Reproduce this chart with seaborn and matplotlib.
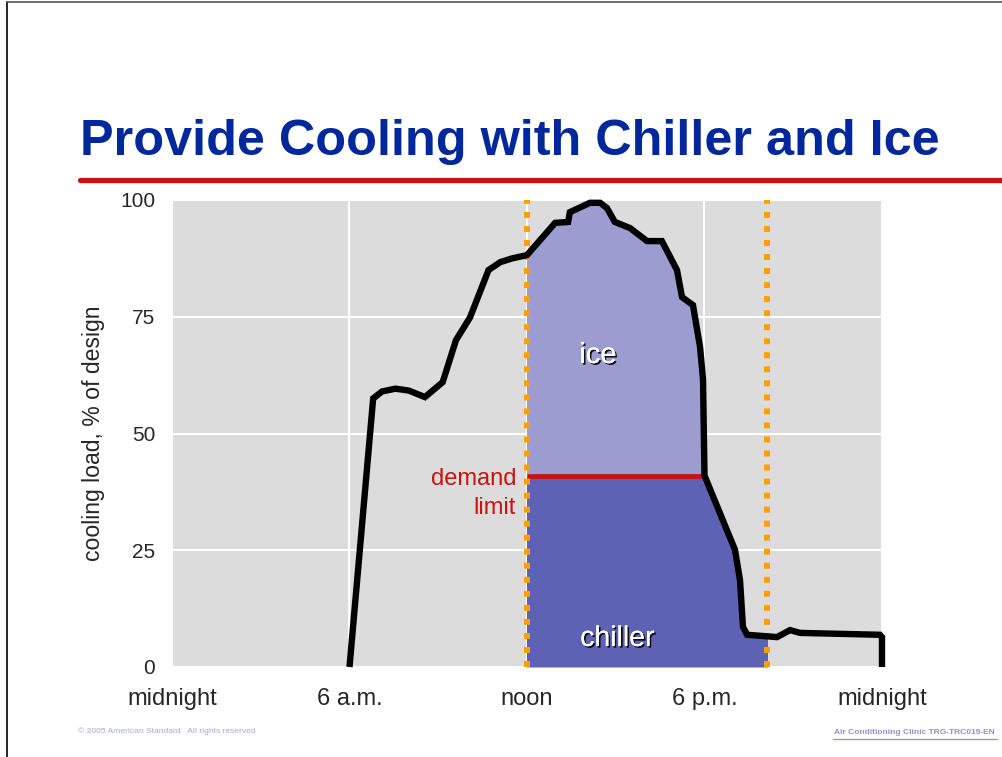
import matplotlib
matplotlib.use("Agg")
import matplotlib.pyplot as plt
import matplotlib.patheffects as pe
from matplotlib.lines import Line2D
from matplotlib.patches import Rectangle
import numpy as np
import seaborn as sns

# Hourly cooling load profile (hour of day, % of design load)
hours = [6.0, 6.8, 7.1, 7.55, 8.0, 8.55, 9.15, 9.6, 10.07, 10.7, 11.1, 11.5,
         12.0, 12.95, 13.39, 13.45, 14.13, 14.47, 14.7, 14.97, 15.48, 16.06,
         16.56, 17.07, 17.24, 17.61, 17.85, 17.95, 18.0, 19.03, 19.2, 19.3,
         19.44, 20.45, 20.89, 21.23, 23.93, 24.0, 24.0]
load = [0.0, 57.5, 59.0, 59.6, 59.2, 57.8, 61.0, 70.0, 74.8, 85.0, 86.7, 87.5,
        88.2, 95.1, 95.3, 97.4, 99.4, 99.4, 98.3, 95.3, 94.0, 91.2,
        91.2, 85.0, 79.2, 77.5, 68.5, 61.5, 41.0, 25.1, 18.6, 8.6,
        6.9, 6.4, 7.9, 7.3, 6.9, 6.4, 0.0]

demand_limit = 41.0
ice_window = (12.0, 18.0)        # ice melted above the demand limit
chiller_window = (12.0, 20.1)    # chiller output capped at the limit
storage_marks = [12.0, 20.1]

tick_hours = [0, 6, 12, 18, 24]
tick_labels = ["midnight", "6 a.m.", "noon", "6 p.m.", "midnight"]
load_ticks = [0, 25, 50, 75, 100]

sns.set_style("white", {"axes.facecolor": "#dcdcdc"})
plt.rcParams["font.family"] = ["Liberation Sans", "DejaVu Sans"]

fig = plt.figure(figsize=(10.03, 7.57), dpi=100)
ax = fig.add_axes([172 / 1003, 1 - 667 / 757, 710 / 1003, 467 / 757])

h = np.array(hours)
y = np.array(load)

# chiller share: up to the demand limit
chiller = ax.fill_between(h, 0, np.minimum(y, demand_limit), color="#5e62b4",
                          linewidth=0, zorder=2)
clip_c = Rectangle((chiller_window[0], 0), chiller_window[1] - chiller_window[0], 100,
                   transform=ax.transData)
chiller.set_clip_path(clip_c)

# ice share: above the demand limit
ice = ax.fill_between(h, demand_limit, y, where=y >= demand_limit, interpolate=True,
                      color="#9b9dd0", linewidth=0, zorder=2)
clip_i = Rectangle((ice_window[0], 0), ice_window[1] - ice_window[0], 100,
                   transform=ax.transData)
ice.set_clip_path(clip_i)

# demand limit
ax.plot(list(ice_window), [demand_limit, demand_limit], color="#cc1111", lw=3.4,
        solid_capstyle="butt", zorder=3)

# storage period markers
for m in storage_marks:
    ax.axvline(m, color="#ffa000", lw=4.3, linestyle=(0, (1, 1.35)),
               dash_capstyle="butt", zorder=4)

sns.lineplot(x=hours, y=load, estimator=None, sort=False, color="black",
             lw=4.6, ax=ax, zorder=5)
load_line = ax.lines[-1]
load_line.set_solid_joinstyle("miter")
load_line.set_solid_capstyle("butt")
load_line.set_clip_on(False)

ax.set_xlim(0, 24)
ax.set_ylim(0, 100)
ax.set_xticks(tick_hours)
ax.set_xticklabels(tick_labels)
ax.set_yticks(load_ticks)
ax.grid(True, color="white", lw=1.5, zorder=0)
ax.set_axisbelow(True)
ax.tick_params(axis="x", length=0, pad=15, labelsize=17)
ax.tick_params(axis="y", length=0, pad=12, labelsize=15)
for s in ax.spines.values():
    s.set_visible(False)
ax.set_ylabel("cooling load, % of design", fontsize=16.6)
ax.yaxis.set_label_coords(-0.095, 0.5)

shadow = [pe.withSimplePatchShadow(offset=(1.2, -1.2), shadow_rgbFace="black", alpha=0.9),
          pe.Normal()]
ax.text(14.4, 66.8, "ice", color="white", fontsize=21, ha="center", va="center",
        path_effects=shadow, zorder=6)
ax.text(15.05, 6.0, "chiller", color="white", fontsize=20.5, ha="center", va="center",
        path_effects=shadow, zorder=6)
ax.text(11.63, 37.2, "demand\nlimit", color="#cc1111", fontsize=17, ha="right",
        va="center", linespacing=1.42, zorder=6)

# slide title and rule
fig.text(80 / 1003, 1 - 155 / 757, "Provide Cooling with Chiller and Ice",
         fontsize=36.3, fontweight="bold", color="#00289c",
         ha="left", va="baseline")
fig.add_artist(Line2D([80 / 1003, 1.0], [1 - 180 / 757] * 2, color="#cc1111", lw=3.8))

# slide frame
fig.add_artist(Line2D([7.5 / 1003, 7.5 / 1003], [0, 1 - 2 / 757], color="black", lw=1.2))
fig.add_artist(Line2D([7.5 / 1003, 1.0], [1 - 2 / 757] * 2, color="#555555", lw=1.2))

# footer
fig.text(78 / 1003, 1 - 731 / 757, "\u00a9 2005 American Standard   All rights reserved",
         fontsize=6.1, color="#a8a8dc", va="center")
fig.text(995 / 1003, 1 - 733 / 757, "Air Conditioning Clinic TRG-TRC019-EN",
         fontsize=6.05, fontweight="bold", color="#9090cc",
         ha="right", va="center")
fig.add_artist(Line2D([833 / 1003, 997 / 1003], [1 - 739 / 757] * 2, color="#9090cc", lw=0.9))

fig.savefig("out.png", dpi=100)
